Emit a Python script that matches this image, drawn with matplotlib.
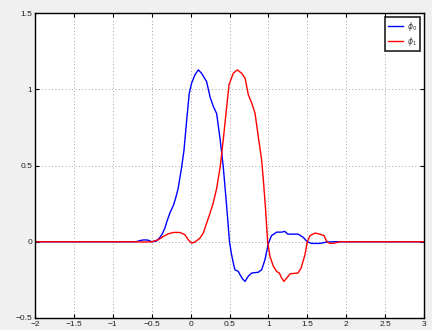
import matplotlib
matplotlib.use("Agg")
import matplotlib.pyplot as plt

x_phi0 = [-2, -0.70, -0.65, -0.60, -0.55, -0.50, -0.44, -0.40, -0.37, -0.33, -0.30, -0.265, -0.22,
          -0.19, -0.16, -0.115, -0.085, -0.05, -0.017, 0.013, 0.056, 0.10, 0.14, 0.17, 0.206,
          0.25, 0.29, 0.335, 0.38, 0.42, 0.464, 0.50, 0.525, 0.549, 0.57, 0.614, 0.635, 0.67,
          0.70, 0.74, 0.785, 0.87, 0.913, 0.956, 1.0, 1.04, 1.106, 1.17, 1.21, 1.25, 1.38,
          1.445, 1.50, 1.556, 1.66, 1.75, 1.85, 3]
y_phi0 = [0, 0, 0.008, 0.012, 0.011, 0.0, 0.005, 0.025, 0.046, 0.09, 0.14, 0.19, 0.24,
          0.29, 0.35, 0.49, 0.60, 0.80, 0.975, 1.04, 1.095, 1.127, 1.105, 1.08, 1.05,
          0.95, 0.89, 0.84, 0.67, 0.49, 0.23, 0.0, -0.08, -0.14, -0.184, -0.195, -0.216, -0.245,
          -0.26, -0.227, -0.205, -0.20, -0.184, -0.118, -0.009, 0.04, 0.063, 0.063, 0.068, 0.05, 0.05,
          0.03, 0.0, -0.011, -0.011, -0.002, 0, 0]

x_phi1 = [-2, -0.70, -0.60, -0.50, -0.415, -0.35, -0.286, -0.22, -0.136, -0.073, -0.03, 0.013,
          0.056, 0.12, 0.163, 0.206, 0.25, 0.29, 0.335, 0.38, 0.42, 0.464, 0.494, 0.549, 0.60,
          0.656, 0.70, 0.742, 0.785, 0.828, 0.87, 0.913, 0.935, 0.964, 0.99, 1.02, 1.063, 1.106,
          1.14, 1.17, 1.20, 1.235, 1.28, 1.38, 1.42, 1.47, 1.50, 1.535, 1.60, 1.66, 1.715, 1.75,
          1.79, 1.85, 1.92, 3]
y_phi1 = [0, 0, -0.002, 0, 0.013, 0.035, 0.052, 0.061, 0.061, 0.046, 0.013, -0.009,
          -0.002, 0.024, 0.057, 0.122, 0.188, 0.253, 0.35, 0.49, 0.67, 0.886, 1.03, 1.105, 1.127,
          1.105, 1.073, 0.964, 0.91, 0.843, 0.69, 0.537, 0.406, 0.21, 0.0, -0.096, -0.16, -0.195,
          -0.205, -0.238, -0.26, -0.238, -0.21, -0.205, -0.173, -0.085, 0.0, 0.04, 0.057, 0.05, 0.04, 0.002,
          -0.011, -0.009, 0, 0]

x_ticks = [-2, -1.5, -1, -0.5, 0, 0.5, 1, 1.5, 2, 2.5, 3]
x_ticklabels = ["\u22122", "\u22121.5", "\u22121", "\u22120.5", "0", "0.5", "1", "1.5", "2", "2.5", "3"]
y_ticks = [-0.5, 0, 0.5, 1, 1.5]
y_ticklabels = ["\u22120.5", "0", "0.5", "1", "1.5"]
labels = [r"$\phi_0$", r"$\phi_1$"]

plt.rcParams['font.family'] = ['Liberation Sans', 'DejaVu Sans']
fig = plt.figure(figsize=(4.32, 3.30), dpi=100, facecolor='#f0f0f0')
ax = fig.add_axes([35/432, 1-318/330, (424-35)/432, (318-13)/330])
ax.set_facecolor('white')
ax.plot(x_phi0, y_phi0, color='#0000ff', lw=1.0, label=labels[0])
ax.plot(x_phi1, y_phi1, color='#ff0000', lw=1.0, label=labels[1])
ax.set_xlim(-2, 3)
ax.set_ylim(-0.5, 1.5)
ax.set_xticks(x_ticks)
ax.set_xticklabels(x_ticklabels)
ax.set_yticks(y_ticks)
ax.set_yticklabels(y_ticklabels)
ax.tick_params(direction='in', length=3, width=0.8, labelsize=6, top=True, right=True,
               pad=2, colors='black', labelcolor='#222222')
ax.grid(True, linestyle=(0, (1, 3)), color='#808080', linewidth=0.6)
for s in ax.spines.values():
    s.set_linewidth(1.0)
    s.set_color('black')
leg = ax.legend(loc='upper right', fontsize=5.5, frameon=True, fancybox=False,
                handlelength=2.0, borderpad=0.35, labelspacing=0.3, handletextpad=0.5,
                borderaxespad=0.55)
leg.get_frame().set_edgecolor('black')
leg.get_frame().set_linewidth(1.3)
for t in leg.get_texts():
    t.set_color('#333333')
fig.savefig('out.png', dpi=100, facecolor=fig.get_facecolor())
